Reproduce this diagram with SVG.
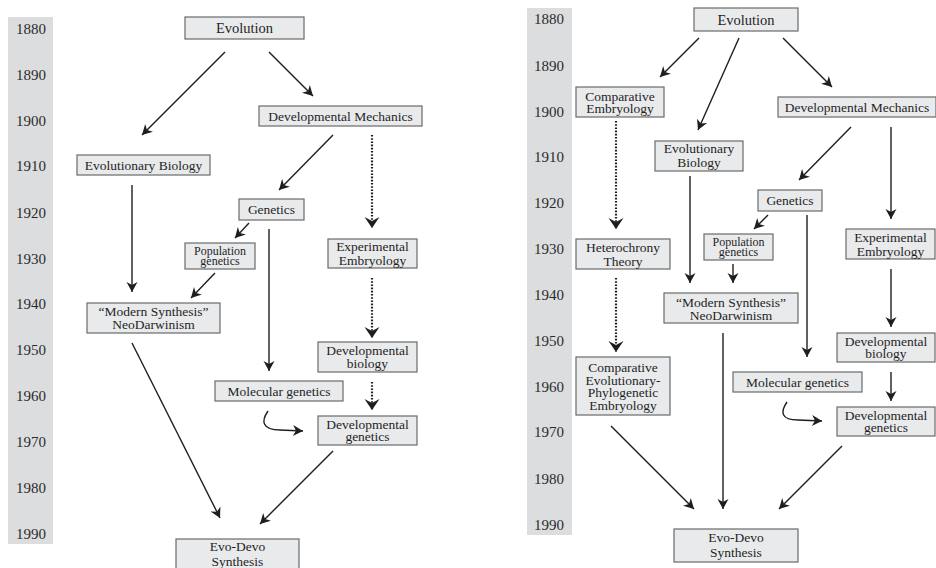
<svg xmlns="http://www.w3.org/2000/svg" width="936" height="568" viewBox="0 0 936 568">
<style>
.bar{fill:#dcdddf}
.yr{font-family:"Liberation Serif",serif;font-size:15px;fill:#2b2b2b;text-anchor:middle;dominant-baseline:central}
.box{fill:#e9eaec;stroke:#6a6a6a;stroke-width:1.2}
.t{font-family:"Liberation Serif",serif;font-size:13.5px;fill:#1f1f1f;text-anchor:middle;dominant-baseline:central}
.s{font-size:12px}
.big{font-size:14.5px}
.ln{stroke:#1e1e1e;stroke-width:1.4;fill:none;marker-end:url(#ah)}
.dt{stroke:#1e1e1e;stroke-width:2.2;fill:none;stroke-dasharray:1.6 1.6;marker-end:url(#ahd)}
</style>
<defs>
<marker id="ah" markerUnits="userSpaceOnUse" markerWidth="14" markerHeight="14" viewBox="-12 -7 14 14" refX="0" refY="0" orient="auto">
<path d="M0,0 L-10,-5.5 L-7,0 L-10,5.5 Z" fill="#1e1e1e"/>
</marker>
<marker id="ahd" markerUnits="userSpaceOnUse" markerWidth="18" markerHeight="18" viewBox="-14 -9 18 18" refX="0" refY="0" orient="auto">
<path d="M0,0 L-11,-7.5 L-7,0 L-11,7.5 Z" fill="#1e1e1e"/>
</marker>
</defs>

<!-- LEFT PANEL -->
<g id="timeline-left">
<rect class="bar" x="8" y="17" width="45" height="527"/>
<text class="yr" x="31" y="29">1880</text>
<text class="yr" x="31" y="75">1890</text>
<text class="yr" x="31" y="121">1900</text>
<text class="yr" x="31" y="166">1910</text>
<text class="yr" x="31" y="213">1920</text>
<text class="yr" x="31" y="259">1930</text>
<text class="yr" x="31" y="304">1940</text>
<text class="yr" x="31" y="350">1950</text>
<text class="yr" x="31" y="396">1960</text>
<text class="yr" x="31" y="442">1970</text>
<text class="yr" x="31" y="488">1980</text>
<text class="yr" x="31" y="534">1990</text>
</g>

<g id="L-evolution"><rect class="box" x="185" y="17" width="119" height="22"/><text class="t big" x="244.5" y="28">Evolution</text></g>
<g id="L-devmech"><rect class="box" x="259" y="106" width="163" height="20"/><text class="t" x="340.5" y="116">Developmental Mechanics</text></g>
<g id="L-evobio"><rect class="box" x="77" y="155" width="133" height="20"/><text class="t" x="143.5" y="165">Evolutionary Biology</text></g>
<g id="L-genetics"><rect class="box" x="239" y="199" width="65" height="21"/><text class="t" x="271.5" y="209.5">Genetics</text></g>
<g id="L-popgen"><rect class="box" x="185" y="243" width="70" height="26"/><text class="t s" x="220" y="250.5">Population</text><text class="t s" x="220" y="261">genetics</text></g>
<g id="L-expemb"><rect class="box" x="328" y="239" width="89" height="29"/><text class="t" x="372.5" y="246.5">Experimental</text><text class="t" x="372.5" y="260">Embryology</text></g>
<g id="L-modsyn"><rect class="box" x="87" y="303" width="133" height="30"/><text class="t" x="153.5" y="311">“Modern Synthesis”</text><text class="t" x="153.5" y="324.5">NeoDarwinism</text></g>
<g id="L-devbio"><rect class="box" x="318" y="342" width="99" height="30"/><text class="t" x="367.5" y="350.5">Developmental</text><text class="t" x="367.5" y="363">biology</text></g>
<g id="L-molgen"><rect class="box" x="215" y="381" width="128" height="20"/><text class="t" x="279" y="391.5">Molecular genetics</text></g>
<g id="L-devgen"><rect class="box" x="318" y="416" width="99" height="29"/><text class="t" x="367.5" y="424">Developmental</text><text class="t" x="367.5" y="436.5">genetics</text></g>
<g id="L-evodevo"><rect class="box" x="176" y="539" width="123" height="32"/><text class="t" x="237.5" y="546.5">Evo-Devo</text><text class="t" x="237.5" y="561.5">Synthesis</text></g>

<g id="L-connectors">
<line class="ln" x1="225" y1="52" x2="142" y2="135"/>
<line class="ln" x1="269" y1="52" x2="313" y2="96"/>
<line class="ln" x1="333" y1="135" x2="279" y2="190"/>
<line class="dt" x1="372" y1="135" x2="372" y2="228"/>
<line class="ln" x1="132" y1="185" x2="132" y2="292"/>
<line class="ln" x1="249" y1="223" x2="235" y2="238"/>
<line class="ln" x1="215" y1="273" x2="191" y2="298"/>
<line class="ln" x1="269" y1="229" x2="269" y2="371"/>
<line class="dt" x1="372" y1="278" x2="372" y2="338"/>
<line class="dt" x1="372" y1="382" x2="372" y2="410"/>
<path class="ln" d="M268,411 C261,421 262,430 280,430 L303,431"/>
<line class="ln" x1="132" y1="343" x2="220" y2="518"/>
<line class="ln" x1="333" y1="451" x2="260" y2="524"/>
</g>

<!-- RIGHT PANEL -->
<g id="timeline-right">
<rect class="bar" x="527" y="8" width="45" height="527"/>
<text class="yr" x="549" y="19">1880</text>
<text class="yr" x="549" y="66">1890</text>
<text class="yr" x="549" y="112">1900</text>
<text class="yr" x="549" y="157">1910</text>
<text class="yr" x="549" y="203">1920</text>
<text class="yr" x="549" y="249">1930</text>
<text class="yr" x="549" y="295">1940</text>
<text class="yr" x="549" y="341">1950</text>
<text class="yr" x="549" y="387">1960</text>
<text class="yr" x="549" y="432">1970</text>
<text class="yr" x="549" y="479">1980</text>
<text class="yr" x="549" y="525">1990</text>
</g>

<g id="R-evolution"><rect class="box" x="694" y="8" width="104" height="23"/><text class="t big" x="746" y="19.5">Evolution</text></g>
<g id="R-compemb"><rect class="box" x="576" y="87" width="88" height="30"/><text class="t" x="620" y="96">Comparative</text><text class="t" x="620" y="108.5">Embryology</text></g>
<g id="R-devmech"><rect class="box" x="778" y="97" width="158" height="20"/><text class="t" x="857" y="107">Developmental Mechanics</text></g>
<g id="R-evobio"><rect class="box" x="655" y="141" width="88" height="30"/><text class="t" x="699" y="148">Evolutionary</text><text class="t" x="699" y="162">Biology</text></g>
<g id="R-genetics"><rect class="box" x="758" y="190" width="64" height="21"/><text class="t" x="790" y="200.5">Genetics</text></g>
<g id="R-popgen"><rect class="box" x="704" y="234" width="69" height="26"/><text class="t s" x="738.5" y="241.5">Population</text><text class="t s" x="738.5" y="252">genetics</text></g>
<g id="R-expemb"><rect class="box" x="846" y="229" width="89" height="30"/><text class="t" x="890.5" y="237">Experimental</text><text class="t" x="890.5" y="251">Embryology</text></g>
<g id="R-hetero"><rect class="box" x="576" y="239" width="94" height="30"/><text class="t" x="623" y="247">Heterochrony</text><text class="t" x="623" y="261">Theory</text></g>
<g id="R-modsyn"><rect class="box" x="664" y="293" width="134" height="30"/><text class="t" x="731" y="302">“Modern Synthesis”</text><text class="t" x="731" y="315.5">NeoDarwinism</text></g>
<g id="R-devbio"><rect class="box" x="837" y="333" width="98" height="29"/><text class="t" x="886" y="341.5">Developmental</text><text class="t" x="886" y="353.5">biology</text></g>
<g id="R-cepe"><rect class="box" x="576" y="357" width="94" height="58"/><text class="t" x="623" y="367">Comparative</text><text class="t" x="623" y="380">Evolutionary-</text><text class="t" x="623" y="392.5">Phylogenetic</text><text class="t" x="623" y="405">Embryology</text></g>
<g id="R-molgen"><rect class="box" x="733" y="372" width="129" height="20"/><text class="t" x="797.5" y="382">Molecular genetics</text></g>
<g id="R-devgen"><rect class="box" x="837" y="407" width="98" height="29"/><text class="t" x="886" y="415">Developmental</text><text class="t" x="886" y="427.5">genetics</text></g>
<g id="R-evodevo"><rect class="box" x="674" y="529" width="124" height="33"/><text class="t" x="736" y="537">Evo-Devo</text><text class="t" x="736" y="552">Synthesis</text></g>

<g id="R-connectors">
<line class="ln" x1="699" y1="38" x2="660" y2="77"/>
<line class="ln" x1="739" y1="38" x2="698" y2="130"/>
<line class="ln" x1="783" y1="38" x2="832" y2="87"/>
<line class="dt" x1="616" y1="121" x2="616" y2="229"/>
<line class="ln" x1="690" y1="176" x2="690" y2="283"/>
<line class="ln" x1="851" y1="127" x2="799" y2="180"/>
<line class="ln" x1="891" y1="127" x2="891" y2="219"/>
<line class="ln" x1="768" y1="215" x2="754" y2="229"/>
<line class="ln" x1="733" y1="264" x2="733" y2="283"/>
<line class="ln" x1="807" y1="215" x2="807" y2="357"/>
<line class="dt" x1="616" y1="278" x2="616" y2="352"/>
<line class="ln" x1="891" y1="269" x2="891" y2="327"/>
<line class="ln" x1="891" y1="372" x2="891" y2="401"/>
<line class="ln" x1="723" y1="333" x2="723" y2="509"/>
<line class="ln" x1="611" y1="426" x2="694" y2="509"/>
<path class="ln" d="M787,402 C780,412 781,420 798,420 L822,421"/>
<line class="ln" x1="842" y1="446" x2="779" y2="509"/>
</g>
</svg>
